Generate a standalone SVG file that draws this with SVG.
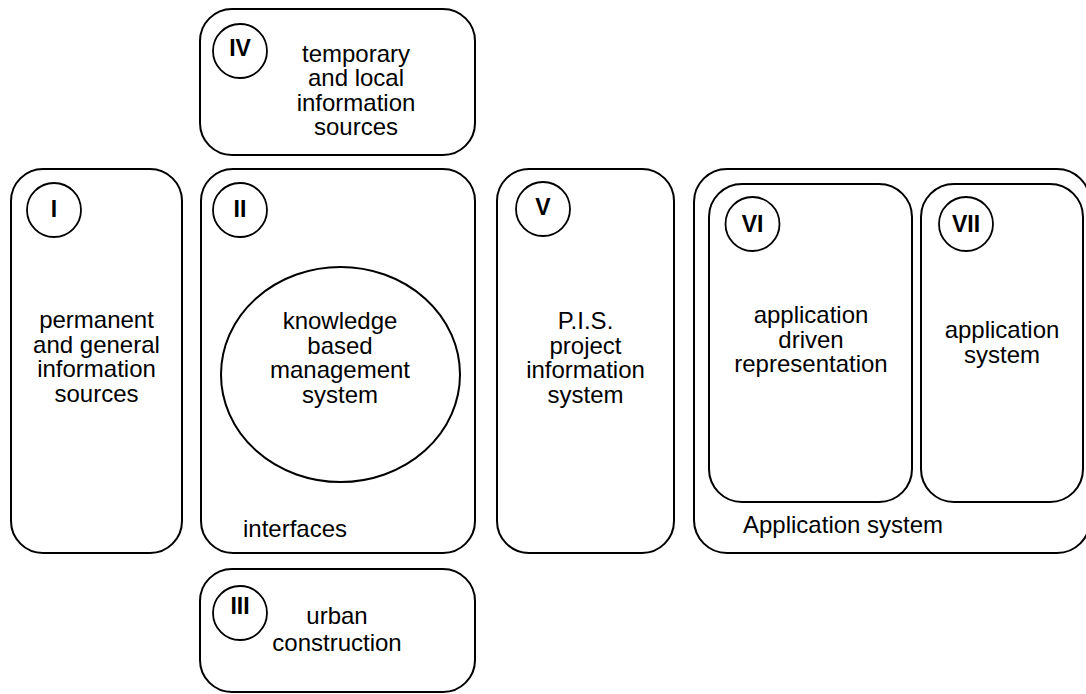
<svg xmlns="http://www.w3.org/2000/svg" width="1086" height="694" viewBox="0 0 1086 694">
<style>
.box{fill:none;stroke:#000;stroke-width:2}
.num{fill:#fff;stroke:#000;stroke-width:1.8}
.lbl{font-family:"Liberation Sans",Arial,Helvetica,sans-serif;font-size:24px;fill:#000;text-anchor:middle}
.rom{font-family:"Liberation Sans",Arial,Helvetica,sans-serif;font-size:23px;font-weight:bold;fill:#000;text-anchor:middle}
.left{text-anchor:start}
</style>
<rect width="1086" height="694" fill="#fff"/>
<g id="node-I">
<rect class="box" x="11" y="169" width="171" height="384" rx="32"/>
<circle class="num" cx="54" cy="210" r="27"/>
<text class="rom" x="54" y="216.5">I</text>
<text class="lbl" x="96.5" y="328">permanent</text>
<text class="lbl" x="96.5" y="352.5">and general</text>
<text class="lbl" x="96.5" y="377">information</text>
<text class="lbl" x="96.5" y="401.5">sources</text>
</g>
<g id="node-IV">
<rect class="box" x="200" y="9" width="275" height="146" rx="32"/>
<circle class="num" cx="240" cy="51" r="27"/>
<text class="rom" x="240" y="55.5">IV</text>
<text class="lbl" x="356" y="61.5">temporary</text>
<text class="lbl" x="356" y="86">and local</text>
<text class="lbl" x="356" y="110.5">information</text>
<text class="lbl" x="356" y="135">sources</text>
</g>
<g id="node-II">
<rect class="box" x="201" y="169" width="274" height="384" rx="32"/>
<circle class="num" cx="240" cy="210" r="27"/>
<text class="rom" x="240" y="216.5">II</text>
<ellipse class="box" cx="340.5" cy="374.5" rx="119.5" ry="107.5"/>
<text class="lbl" x="340" y="329">knowledge</text>
<text class="lbl" x="340" y="353.5">based</text>
<text class="lbl" x="340" y="378">management</text>
<text class="lbl" x="340" y="402.5">system</text>
<text class="lbl left" x="243" y="537">interfaces</text>
</g>
<g id="node-III">
<rect class="box" x="200" y="569" width="275" height="123" rx="32"/>
<circle class="num" cx="240" cy="613" r="27"/>
<text class="rom" x="240" y="613.5">III</text>
<text class="lbl" x="337" y="624">urban</text>
<text class="lbl" x="337" y="650.5">construction</text>
</g>
<g id="node-V">
<rect class="box" x="497" y="169" width="177" height="384" rx="32"/>
<circle class="num" cx="543" cy="209" r="27"/>
<text class="rom" x="543" y="214.5">V</text>
<text class="lbl" x="585.5" y="329">P.I.S.</text>
<text class="lbl" x="585.5" y="353.5">project</text>
<text class="lbl" x="585.5" y="378">information</text>
<text class="lbl" x="585.5" y="402.5">system</text>
</g>
<g id="node-application-system">
<rect class="box" x="694" y="169" width="396" height="384" rx="33"/>
<text class="lbl left" x="743" y="533">Application system</text>
</g>
<g id="node-VI">
<rect class="box" x="709" y="184" width="203" height="318" rx="33"/>
<circle class="num" cx="752.5" cy="224" r="27"/>
<text class="rom" x="752.5" y="231.5">VI</text>
<text class="lbl" x="811" y="323">application</text>
<text class="lbl" x="811" y="347.5">driven</text>
<text class="lbl" x="811" y="372">representation</text>
</g>
<g id="node-VII">
<rect class="box" x="921" y="184" width="162" height="318" rx="33"/>
<circle class="num" cx="966" cy="224" r="27"/>
<text class="rom" x="966" y="231.5">VII</text>
<text class="lbl" x="1002" y="338">application</text>
<text class="lbl" x="1002" y="362.5">system</text>
</g>
<g id="connectors"></g>
</svg>
